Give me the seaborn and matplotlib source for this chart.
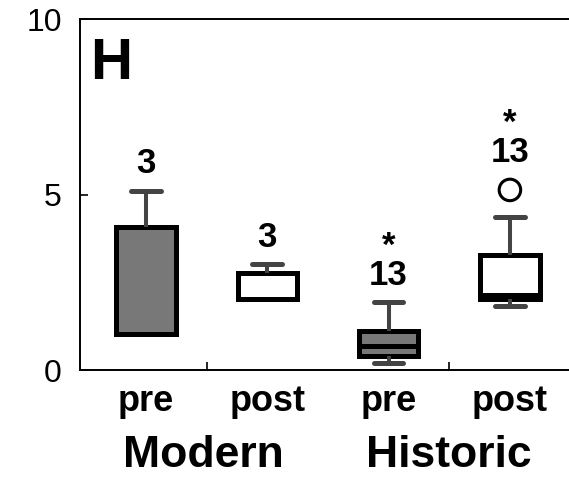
import pandas as pd
import matplotlib.pyplot as plt
from matplotlib.transforms import blended_transform_factory
import seaborn as sns

# Boxes in plotting order
box_ids = ['Modern pre', 'Modern post', 'Historic pre', 'Historic post']
period_labels = ['pre', 'post', 'pre', 'post']
group_labels = ['Modern', 'Historic']

# Five-number summaries
whisker_low = [1.02, 2.01, 0.19, 1.82]
q1 = [1.02, 2.01, 0.40, 2.02]
median = [1.02, 2.03, 0.675, 2.14]
q3 = [4.08, 2.75, 1.12, 3.28]
whisker_high = [5.11, 3.01, 1.93, 4.35]
outliers = [[], [], [], [5.13]]

n_labels = ['3', '3', '13', '13']
signif = ['', '', '*', '*']
fills = ['#787878', 'white', '#787878', 'white']

sns.set_style('white')
plt.rcParams['font.family'] = ['Liberation Sans', 'DejaVu Sans']
plt.rcParams['text.color'] = 'black'
plt.rcParams['xtick.color'] = 'black'
plt.rcParams['ytick.color'] = 'black'
plt.rcParams['axes.edgecolor'] = 'black'

# Long table: five values per box give exactly these quartiles
rows = []
for i, name in enumerate(box_ids):
    for v in (whisker_low[i], q1[i], median[i], q3[i], whisker_high[i]):
        rows.append({'box': name, 'value': v})
df = pd.DataFrame(rows)

fig = plt.figure(figsize=(5.69, 4.8), dpi=100)
ax = fig.add_axes([80 / 569, 1 - 370 / 480, 489 / 569, 351 / 480])

sns.boxplot(data=df, x='box', y='value', hue='box', order=box_ids,
            hue_order=box_ids, palette=fills, saturation=1, legend=False,
            width=0.49, whis=(0, 100), showfliers=False,
            linecolor='black', linewidth=3.6,
            whiskerprops=dict(color='#444444', linewidth=2.9),
            capprops=dict(color='#444444', linewidth=3.6),
            medianprops=dict(color='black', linewidth=3.6),
            ax=ax)

# outliers as open circles
fl = pd.DataFrame([{'pos': i, 'value': v}
                   for i, vals in enumerate(outliers) for v in vals])
sns.scatterplot(data=fl, x='pos', y='value', marker='o', s=240,
                facecolor='none', edgecolor='black', linewidth=2.2,
                legend=False, ax=ax, zorder=5)

# n and significance labels above each box
for i in range(len(box_ids)):
    top = max([whisker_high[i]] + [v + 0.3 for v in outliers[i]])
    label = (signif[i] + '\n' + n_labels[i]) if signif[i] else n_labels[i]
    ax.text(i, top + 0.5 - 0.2, label, ha='center', va='bottom',
            fontsize=25, fontweight='bold', linespacing=0.85)

ax.set_xlim(-0.544, 3.487)
ax.set_ylim(0, 10)
ax.set_yticks([0, 5, 10])
ax.set_yticklabels(['0', '5', '10'], fontsize=23)
ax.tick_params(axis='y', direction='in', length=6, width=1.2, pad=13,
               left=True)
ax.set_xticks(range(len(box_ids)))
ax.set_xticklabels(period_labels, fontsize=26, fontweight='bold')
ax.tick_params(axis='x', length=0, pad=10)
ax.set_xticks([0.5, 2.5], minor=True)
ax.tick_params(axis='x', which='minor', direction='in', length=6,
               width=1.2, bottom=True)
ax.set_xlabel('')
ax.set_ylabel('')

for side in ['left', 'top', 'bottom']:
    ax.spines[side].set_linewidth(1.4)
ax.spines['right'].set_visible(False)

trans = blended_transform_factory(ax.transData, ax.transAxes)
for x, g in zip([0.47, 2.5], group_labels):
    ax.text(x, -0.276, g, transform=trans, ha='center', va='baseline',
            fontsize=32, fontweight='bold')

ax.text(0.02, 0.828, 'H', transform=ax.transAxes, ha='left',
        va='baseline', fontsize=42, fontweight='bold')

fig.savefig('out.png', dpi=100)
